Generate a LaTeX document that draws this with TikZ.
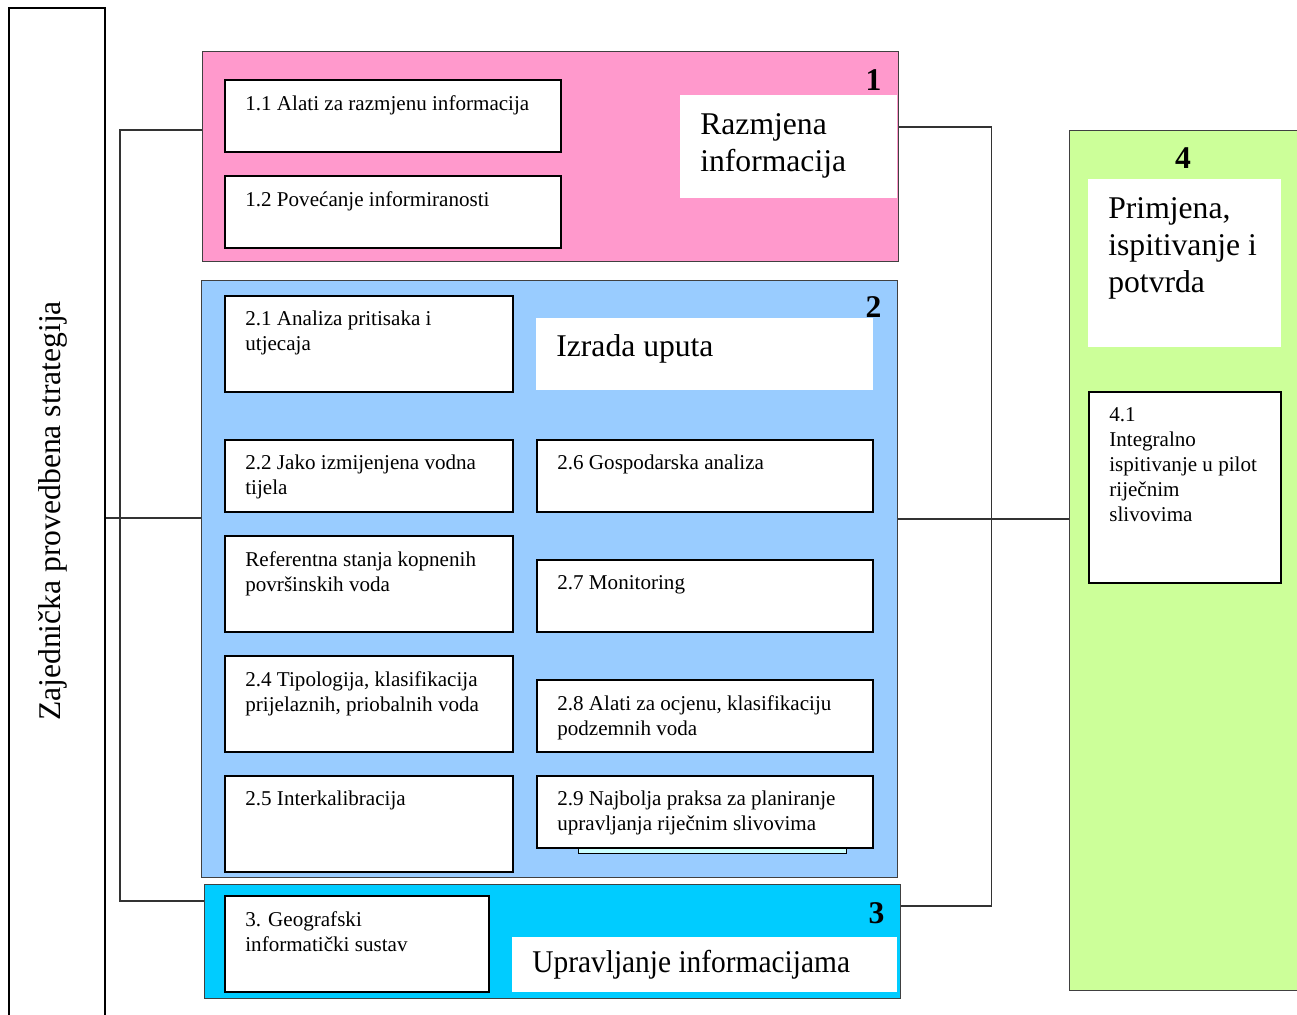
\documentclass[tikz,border=0pt]{standalone}
\usepackage{fontspec}
\setmainfont{Liberation Serif}
\usetikzlibrary{positioning}
\definecolor{pinkpanel}{RGB}{255,153,204}
\definecolor{bluepanel}{RGB}{153,204,255}
\definecolor{cyanpanel}{RGB}{0,204,255}
\definecolor{greenpanel}{RGB}{204,255,153}
\definecolor{shadowcyan}{RGB}{204,255,255}
\newcommand{\pxu}{0.02cm}

\begin{document}
\begin{tikzpicture}[x=\pxu, y=-\pxu,
	panel/.style={draw=black!75, line width=0.8pt, anchor=north west, inner sep=0pt},
	card/.style={draw=black, line width=1.2pt, fill=white, anchor=north west, inner sep=0pt},
	head/.style={fill=white, anchor=north west, inner sep=0pt},
	cardtext/.style={anchor=north west, inner sep=0pt, align=left, font=\fontsize{12}{14.2}\selectfont},
	headtext/.style={anchor=north west, inner sep=0pt, align=left, font=\fontsize{18}{21}\selectfont},
	num/.style={inner sep=0pt, font=\fontsize{18}{21}\selectfont\bfseries},
	link/.style={draw=black!80, line width=0.8pt}]
		\clip (0,0) rectangle (1297,1014);
		% panels
		\node[panel, draw=black, line width=1.2pt, minimum width=96*\pxu, minimum height=1030*\pxu] (jps) at (8,7) {};
		\node[rotate=90, font=\fontsize{18}{21}\selectfont] (jpslabel) at ([shift={(-4,-12)}]jps.center) {Zajednička provedbena strategija};
		\node[panel, fill=pinkpanel, minimum width=696*\pxu, minimum height=210*\pxu] (p1) at (202,51) {};
		\node[panel, fill=bluepanel, minimum width=696*\pxu, minimum height=597*\pxu] (p2) at (201,280) {};
		\node[panel, fill=cyanpanel, minimum width=696*\pxu, minimum height=114*\pxu] (p3) at (204,884) {};
		\node[panel, fill=greenpanel, minimum width=240*\pxu, minimum height=860*\pxu] (p4) at (1069,130) {};
		% connectors
		\coordinate (lt) at ([shift={(0,79)}]p1.north west);
		\draw[link] (lt) -- ++(-82,0) |- ([shift={(0,17)}]p3.north west);
		\coordinate (lm) at ([shift={(0,238)}]p2.north west);
		\draw[link] (lm) -- (lm -| jps.east);
		\coordinate (rt) at ([shift={(0,76)}]p1.north east);
		\draw[link] (rt) -- ++(92,0) |- ([shift={(0,22)}]p3.north east);
		\coordinate (rm) at ([shift={(0,239)}]p2.north east);
		\draw[link] (rm) -- (rm -| p4.west);
		% title boxes
		\foreach \n/\x/\y/\w/\h/\dy/\sx/\t in {
			h1/680/95/217/103/18/1/{Razmjena\\informacija},
			h2/536/318/337/72/16/1/{Izrada uputa},
			h3/512/937/385/55/13/0.93/{Upravljanje informacijama},
			h4/1088/179/193/168/18/1/{Primjena,\\ispitivanje i\\potvrda}}
		{
			\node[head, minimum width=\w*\pxu, minimum height=\h*\pxu] (\n) at (\x,\y) {};
			\node[headtext, xscale=\sx] (\n t) at ([shift={(20,\dy)}]\n.north west) {\t};
		}
		% numbers
		\node[num] (n1) at ([shift={(-26,29)}]p1.north east) {1};
		\node[num] (n2) at ([shift={(-25,27)}]p2.north east) {2};
		\node[num] (n3) at ([shift={(-25,29)}]p3.north east) {3};
		\node[num] (n4) at ([shift={(114,28)}]p4.north west) {4};
		% task boxes
		\node[card, fill=shadowcyan, line width=0.8pt, minimum width=268*\pxu, minimum height=8*\pxu] (s29) at (578,845) {};
		\foreach \n/\x/\y/\w/\h/\t in {
			c11/224/79/336/72/{1.1 Alati za razmjenu informacija},
			c12/224/175/336/72/{1.2 Povećanje informiranosti},
			c21/224/295/288/96/{2.1 Analiza pritisaka i\\utjecaja},
			c22/224/439/288/72/{2.2 Jako izmijenjena vodna\\tijela},
			c23/224/535/288/96/{Referentna stanja kopnenih\\površinskih voda},
			c24/224/655/288/96/{2.4 Tipologija, klasifikacija\\prijelaznih, priobalnih voda},
			c25/224/775/288/96/{2.5 Interkalibracija},
			c26/536/439/336/72/{2.6 Gospodarska analiza},
			c27/536/559/336/72/{2.7 Monitoring},
			c28/536/679/336/72/{2.8 Alati za ocjenu, klasifikaciju\\podzemnih voda},
			c29/536/775/336/72/{2.9 Najbolja praksa za planiranje\\upravljanja riječnim slivovima},
			c3/224/895/264/96/{3. Geografski\\informatički sustav},
			c41/1088/391/192/191/{4.1\\Integralno\\ispitivanje u pilot\\riječnim\\slivovima}}
		{
			\node[card, minimum width=\w*\pxu, minimum height=\h*\pxu] (\n) at (\x,\y) {};
			\node[cardtext] (\n t) at ([shift={(21,16)}]\n.north west) {\t};
		}
\end{tikzpicture}
\end{document}
